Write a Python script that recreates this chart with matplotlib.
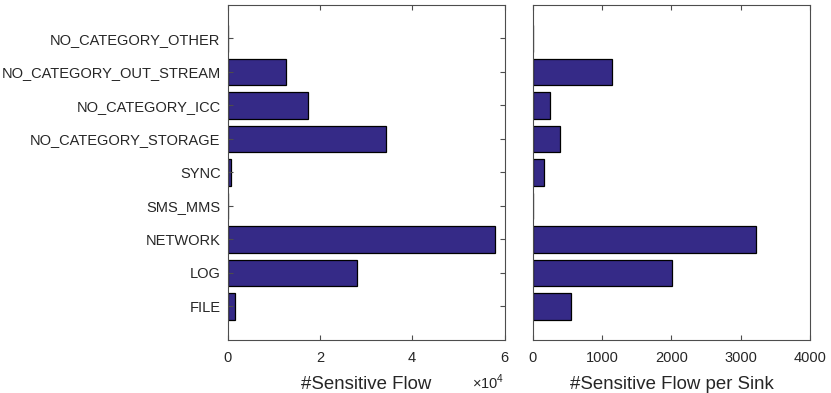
import matplotlib
matplotlib.use("Agg")
import matplotlib.pyplot as plt
from matplotlib.ticker import FuncFormatter

plt.rcParams['font.family'] = ['Liberation Sans', 'DejaVu Sans']
plt.rcParams['mathtext.fontset'] = 'custom'
plt.rcParams['mathtext.rm'] = 'Liberation Sans'

categories = ["FILE", "LOG", "NETWORK", "SMS_MMS", "SYNC",
              "NO_CATEGORY_STORAGE", "NO_CATEGORY_ICC",
              "NO_CATEGORY_OUT_STREAM", "NO_CATEGORY_OTHER"]
flows = [1670, 28000, 58000, 0, 800, 34400, 17400, 12560, 0]
flows_per_sink = [552, 2003, 3222, 3, 163, 394, 250, 1143, 2]

bar_color = "#352A87"
text_color = "#262626"
axis_color = "#4d4d4d"

fig = plt.figure(figsize=(8.31, 3.93), dpi=100)
ax1 = fig.add_axes([0.2738, 0.1349, 0.3333, 0.8524])
ax2 = fig.add_axes([0.641, 0.1349, 0.334, 0.8524])

pos = list(range(1, len(categories) + 1))

for ax, vals in ((ax1, flows), (ax2, flows_per_sink)):
    ax.barh(pos, vals, height=0.8, color=bar_color, edgecolor="black", linewidth=0.9)
    ax.set_ylim(0, len(categories) + 1)
    for s in ax.spines.values():
        s.set_color(axis_color)
        s.set_linewidth(0.8)
    ax.tick_params(direction="in", colors=axis_color, labelcolor=text_color,
                   labelsize=10.5, length=3.5, width=0.8)

ax1.set_xlim(0, 60000)
ax1.set_xticks([0, 20000, 40000, 60000])
ax1.xaxis.set_major_formatter(FuncFormatter(lambda v, p: f"{v/1e4:g}"))
ax1.set_yticks(pos)
ax1.set_yticklabels(categories)
ax1.tick_params(axis="y", right=True, pad=5)
ax1.tick_params(axis="x", top=True, pad=8)
ax1.set_xlabel("#Sensitive Flow", fontsize=13.4, color=text_color, labelpad=8)
ax1.text(1.0, -0.125, r"$\times10^4$", transform=ax1.transAxes, ha="right", va="center",
         fontsize=10.5, color=text_color)

ax2.set_xlim(0, 4000)
ax2.set_xticks([0, 1000, 2000, 3000, 4000])
ax2.set_yticks(pos)
ax2.set_yticklabels([])
ax2.tick_params(axis="y", length=0)
ax2.tick_params(axis="x", top=True, pad=8)
ax2.set_xlabel("#Sensitive Flow per Sink", fontsize=13.4, color=text_color, labelpad=8)

fig.savefig("out.png", dpi=100)
